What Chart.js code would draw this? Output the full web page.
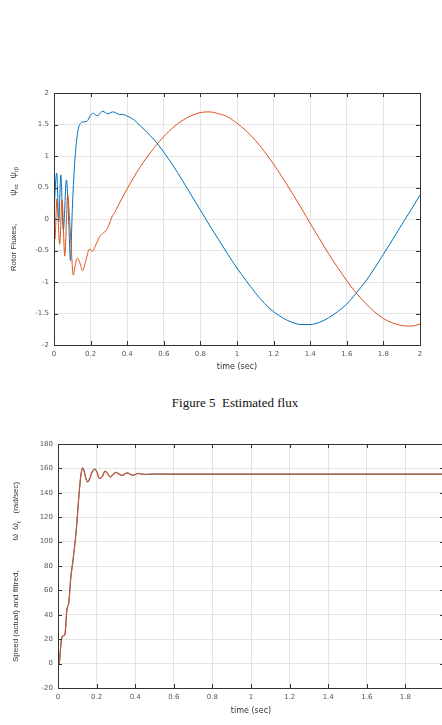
<!DOCTYPE html>
<html>
<head>
<meta charset="utf-8">
<script src="https://cdn.jsdelivr.net/npm/chart.js@4.4.1/dist/chart.umd.min.js"></script>
<style>
    html, body { margin: 0; padding: 0; background: #fff; width: 442px; height: 725px; overflow: hidden; }
    #wrap { position: relative; width: 442px; height: 725px; overflow: hidden; }
    #fluxBox { position: absolute; left: 0; top: 80px; width: 442px; height: 300px; }
    #speedBox { position: absolute; left: 0; top: 425px; width: 462px; height: 300px; }
    #caption { position: absolute; left: 0; top: 395px; width: 470px; text-align: center;
        font-family: "Liberation Serif", "Times New Roman", serif; font-size: 13px; color: #111; white-space: pre; }
</style>
</head>
<body>
<div id="wrap">
    <div id="fluxBox"><canvas id="fluxChart" width="442" height="300"></canvas></div>
    <div id="caption">Figure 5  Estimated flux</div>
    <div id="speedBox"><canvas id="speedChart" width="462" height="300"></canvas></div>
</div>
<script>
// rotor flux alpha (blue)
const fluxTimeA = [0, 0.006, 0.015, 0.026, 0.037, 0.051, 0.068, 0.08, 0.09, 0.1, 0.11, 0.12, 0.132, 0.145, 0.158,
    0.18, 0.198, 0.213, 0.228, 0.24, 0.255, 0.267, 0.28, 0.295, 0.31, 0.325, 0.34, 0.358, 0.375, 0.395,
    0.43, 0.45, 0.5, 0.55, 0.6, 0.65, 0.7, 0.75, 0.8, 0.85, 0.9, 0.95, 1.0, 1.05, 1.1, 1.15, 1.2, 1.25,
    1.3, 1.35, 1.4, 1.45, 1.5, 1.55, 1.6, 1.65, 1.7, 1.75, 1.8, 1.85, 1.9, 1.95, 2.0];
const psiAlpha = [0.05, 0.45, 0.73, -0.05, 0.70, -0.18, 0.62, 0.0, -0.66, 0.15, 0.75, 1.15, 1.42, 1.52, 1.54,
    1.55, 1.64, 1.68, 1.65, 1.64, 1.69, 1.71, 1.69, 1.67, 1.69, 1.70, 1.68, 1.66, 1.66, 1.64,
    1.59, 1.54, 1.40, 1.25, 1.06, 0.85, 0.62, 0.38, 0.14, -0.10, -0.33, -0.56, -0.78, -0.98, -1.17, -1.34, -1.47, -1.57,
    -1.64, -1.675, -1.675, -1.64, -1.57, -1.47, -1.35, -1.18, -1.00, -0.79, -0.56, -0.33, -0.09, 0.14, 0.38];

// rotor flux beta (orange)
const fluxTimeB = [0, 0.005, 0.016, 0.031, 0.044, 0.059, 0.075, 0.085, 0.095, 0.105, 0.117, 0.128, 0.142, 0.156,
    0.175, 0.193, 0.211, 0.23, 0.25, 0.27, 0.288, 0.302, 0.316, 0.335, 0.352, 0.4, 0.45, 0.5, 0.55, 0.6, 0.65,
    0.7, 0.75, 0.8, 0.85, 0.9, 0.95, 1.0, 1.05, 1.1, 1.15, 1.2, 1.25, 1.3, 1.35, 1.4, 1.45, 1.5, 1.55, 1.6,
    1.65, 1.7, 1.75, 1.8, 1.85, 1.9, 1.95, 2.0];
const psiBeta = [0, -0.32, 0.32, -0.40, 0.30, -0.59, 0.38, 0.0, -0.5, -0.89, -0.72, -0.62, -0.70, -0.82,
    -0.65, -0.48, -0.51, -0.40, -0.28, -0.22, -0.17, -0.08, 0.03, 0.12, 0.22, 0.48, 0.73, 0.95, 1.14, 1.31, 1.45,
    1.56, 1.64, 1.69, 1.70, 1.67, 1.62, 1.52, 1.40, 1.25, 1.07, 0.87, 0.65, 0.42, 0.18, -0.07, -0.31, -0.55, -0.77, -0.98,
    -1.17, -1.33, -1.47, -1.58, -1.65, -1.69, -1.70, -1.67];

// speed, actual and filtered lie on top of each other
const speedTime = [0, 0.006, 0.012, 0.017, 0.022, 0.03, 0.036, 0.046, 0.056, 0.066, 0.078, 0.095, 0.108, 0.116,
    0.122, 0.128, 0.135, 0.145, 0.154, 0.165, 0.178, 0.19, 0.202, 0.214, 0.228, 0.244, 0.258, 0.27, 0.285,
    0.3, 0.315, 0.33, 0.345, 0.359, 0.372, 0.385, 0.4, 0.415, 0.43, 0.46, 0.5, 0.6, 0.8, 1.0, 1.2, 1.4, 1.6, 1.8, 2.0];
const speedValues = [0, 0, 10, 19, 22, 23, 24, 44, 50, 70, 85, 110, 137, 151,
    158, 160.5, 158, 151.5, 149, 152, 157.5, 159.5, 157, 151.8, 153, 157.8, 155.5, 153, 155,
    156.7, 155.5, 154.2, 155.3, 156.4, 155.3, 154.4, 155, 155.9, 155.4, 155.1, 155.4, 155.3, 155.3, 155.3, 155.3, 155.3, 155.3, 155.3, 155.3];

const fluxTicks = { min: -2, max: 2, step: 0.5 };
const speedTicks = { min: -20, max: 180, step: 20 };
const timeTicks = { min: 0, max: 2, step: 0.2 };

const blue = '#0072BD';
const orange = '#D95319';
const axisColor = '#333333';
const gridColor = '#e4e4e4';
const tickFont = { family: 'DejaVu Sans', size: 7 };

const toPoints = (xs, ys) => xs.map((x, i) => ({ x: x, y: ys[i] }));

// box round the plot with inward tick marks, like matlab axes
const matlabBox = {
    id: 'matlabBox',
    afterDraw(chart) {
        const { ctx, chartArea: a, scales } = chart;
        ctx.save();
        ctx.strokeStyle = axisColor;
        ctx.lineWidth = 1;
        ctx.strokeRect(Math.round(a.left) + 0.5, Math.round(a.top) + 0.5,
            Math.round(a.right - a.left), Math.round(a.bottom - a.top));
        ctx.beginPath();
        scales.x.ticks.forEach(t => {
            const px = Math.round(scales.x.getPixelForValue(t.value)) + 0.5;
            ctx.moveTo(px, a.bottom); ctx.lineTo(px, a.bottom - 4);
            ctx.moveTo(px, a.top); ctx.lineTo(px, a.top + 4);
        });
        scales.y.ticks.forEach(t => {
            const py = Math.round(scales.y.getPixelForValue(t.value)) + 0.5;
            ctx.moveTo(a.left, py); ctx.lineTo(a.left + 4, py);
            ctx.moveTo(a.right, py); ctx.lineTo(a.right - 4, py);
        });
        ctx.stroke();
        ctx.restore();
    }
};

// rotated y label with subscripts
const richYLabel = {
    id: 'richYLabel',
    afterDraw(chart, args, opts) {
        if (!opts.parts) return;
        const { ctx, chartArea: a } = chart;
        ctx.save();
        ctx.fillStyle = '#333';
        ctx.textBaseline = 'alphabetic';
        let total = 0;
        const parts = opts.parts.map(p => {
            if (p.gap) { total += p.gap; return p; }
            ctx.font = `${p.size}px "Liberation Sans"`;
            const w = ctx.measureText(p.text).width;
            total += w;
            return { ...p, w: w };
        });
        const cy = (a.top + a.bottom) / 2 + (opts.shift || 0);
        ctx.translate(opts.x, cy + total / 2);
        ctx.rotate(-Math.PI / 2);
        let pos = 0;
        parts.forEach(p => {
            if (p.gap) { pos += p.gap; return; }
            ctx.font = `${p.size}px "Liberation Sans"`;
            ctx.fillText(p.text, pos, p.drop || 0);
            pos += p.w;
        });
        ctx.restore();
    }
};

const baseScales = (xTitlePad, yTicks, yWidth, xHeight) => ({
    x: {
        type: 'linear',
        min: timeTicks.min,
        max: timeTicks.max,
        ticks: {
            stepSize: timeTicks.step,
            font: tickFont,
            color: '#555',
            padding: 5,
            maxRotation: 0,
            callback: v => String(+v.toFixed(1))
        },
        grid: { color: gridColor, drawTicks: false },
        border: { color: axisColor },
        title: {
            display: true,
            text: 'time (sec)',
            font: { family: 'DejaVu Sans', size: 8 },
            color: '#333',
            padding: { top: 0, bottom: xTitlePad }
        },
        afterFit: s => { s.height = xHeight; }
    },
    y: {
        type: 'linear',
        min: yTicks.min,
        max: yTicks.max,
        ticks: {
            stepSize: yTicks.step,
            font: tickFont,
            color: '#555',
            padding: 5,
            callback: v => String(+v.toFixed(1))
        },
        grid: { color: gridColor, drawTicks: false },
        border: { color: axisColor },
        afterFit: s => { s.width = yWidth; }
    }
});

new Chart(document.getElementById('fluxChart').getContext('2d'), {
    type: 'line',
    data: {
        datasets: [
            {
                label: 'psi_ra',
                data: toPoints(fluxTimeA, psiAlpha),
                borderColor: blue,
                borderWidth: 1,
                pointRadius: 0,
                order: 1,
                cubicInterpolationMode: 'monotone'
            },
            {
                label: 'psi_rb',
                data: toPoints(fluxTimeB, psiBeta),
                borderColor: orange,
                borderWidth: 1,
                pointRadius: 0,
                order: 0,
                cubicInterpolationMode: 'monotone'
            }
        ]
    },
    options: {
        responsive: false,
        animation: false,
        layout: { padding: { top: 13, right: 22, left: 0, bottom: 0 } },
        plugins: {
            legend: { display: false },
            tooltip: { enabled: false },
            richYLabel: {
                x: 15.5,
                shift: 0,
                parts: [
                    { text: 'Rotor Fluxes,', size: 8 },
                    { gap: 28 },
                    { text: 'ψ', size: 8.5 },
                    { text: 'rα', size: 6, drop: 2.5 },
                    { gap: 6 },
                    { text: 'ψ', size: 8.5 },
                    { text: 'rβ', size: 6, drop: 2.5 }
                ]
            }
        },
        scales: baseScales(8, fluxTicks, 54, 35)
    },
    plugins: [matlabBox, richYLabel]
});

new Chart(document.getElementById('speedChart').getContext('2d'), {
    type: 'line',
    data: {
        datasets: [
            {
                label: 'omega',
                data: toPoints(speedTime, speedValues),
                borderColor: blue,
                borderWidth: 1,
                pointRadius: 0,
                order: 1,
                cubicInterpolationMode: 'monotone'
            },
            {
                label: 'omega_f',
                data: toPoints(speedTime, speedValues),
                borderColor: '#C9582C',
                borderWidth: 1.2,
                pointRadius: 0,
                order: 0,
                cubicInterpolationMode: 'monotone'
            }
        ]
    },
    options: {
        responsive: false,
        animation: false,
        layout: { padding: { top: 19, right: 18, left: 0, bottom: 0 } },
        plugins: {
            legend: { display: false },
            tooltip: { enabled: false },
            richYLabel: {
                x: 18,
                shift: 6,
                parts: [
                    { text: 'Speed (actual) and filtred,', size: 8 },
                    { gap: 30 },
                    { text: 'ω', size: 8.5 },
                    { gap: 4 },
                    { text: 'ω', size: 8.5 },
                    { text: 'f', size: 6, drop: 2.5 },
                    { gap: 8 },
                    { text: '(rad/sec)', size: 8 }
                ]
            }
        },
        scales: baseScales(9, speedTicks, 58, 37)
    },
    plugins: [matlabBox, richYLabel]
});
</script>
</body>
</html>
